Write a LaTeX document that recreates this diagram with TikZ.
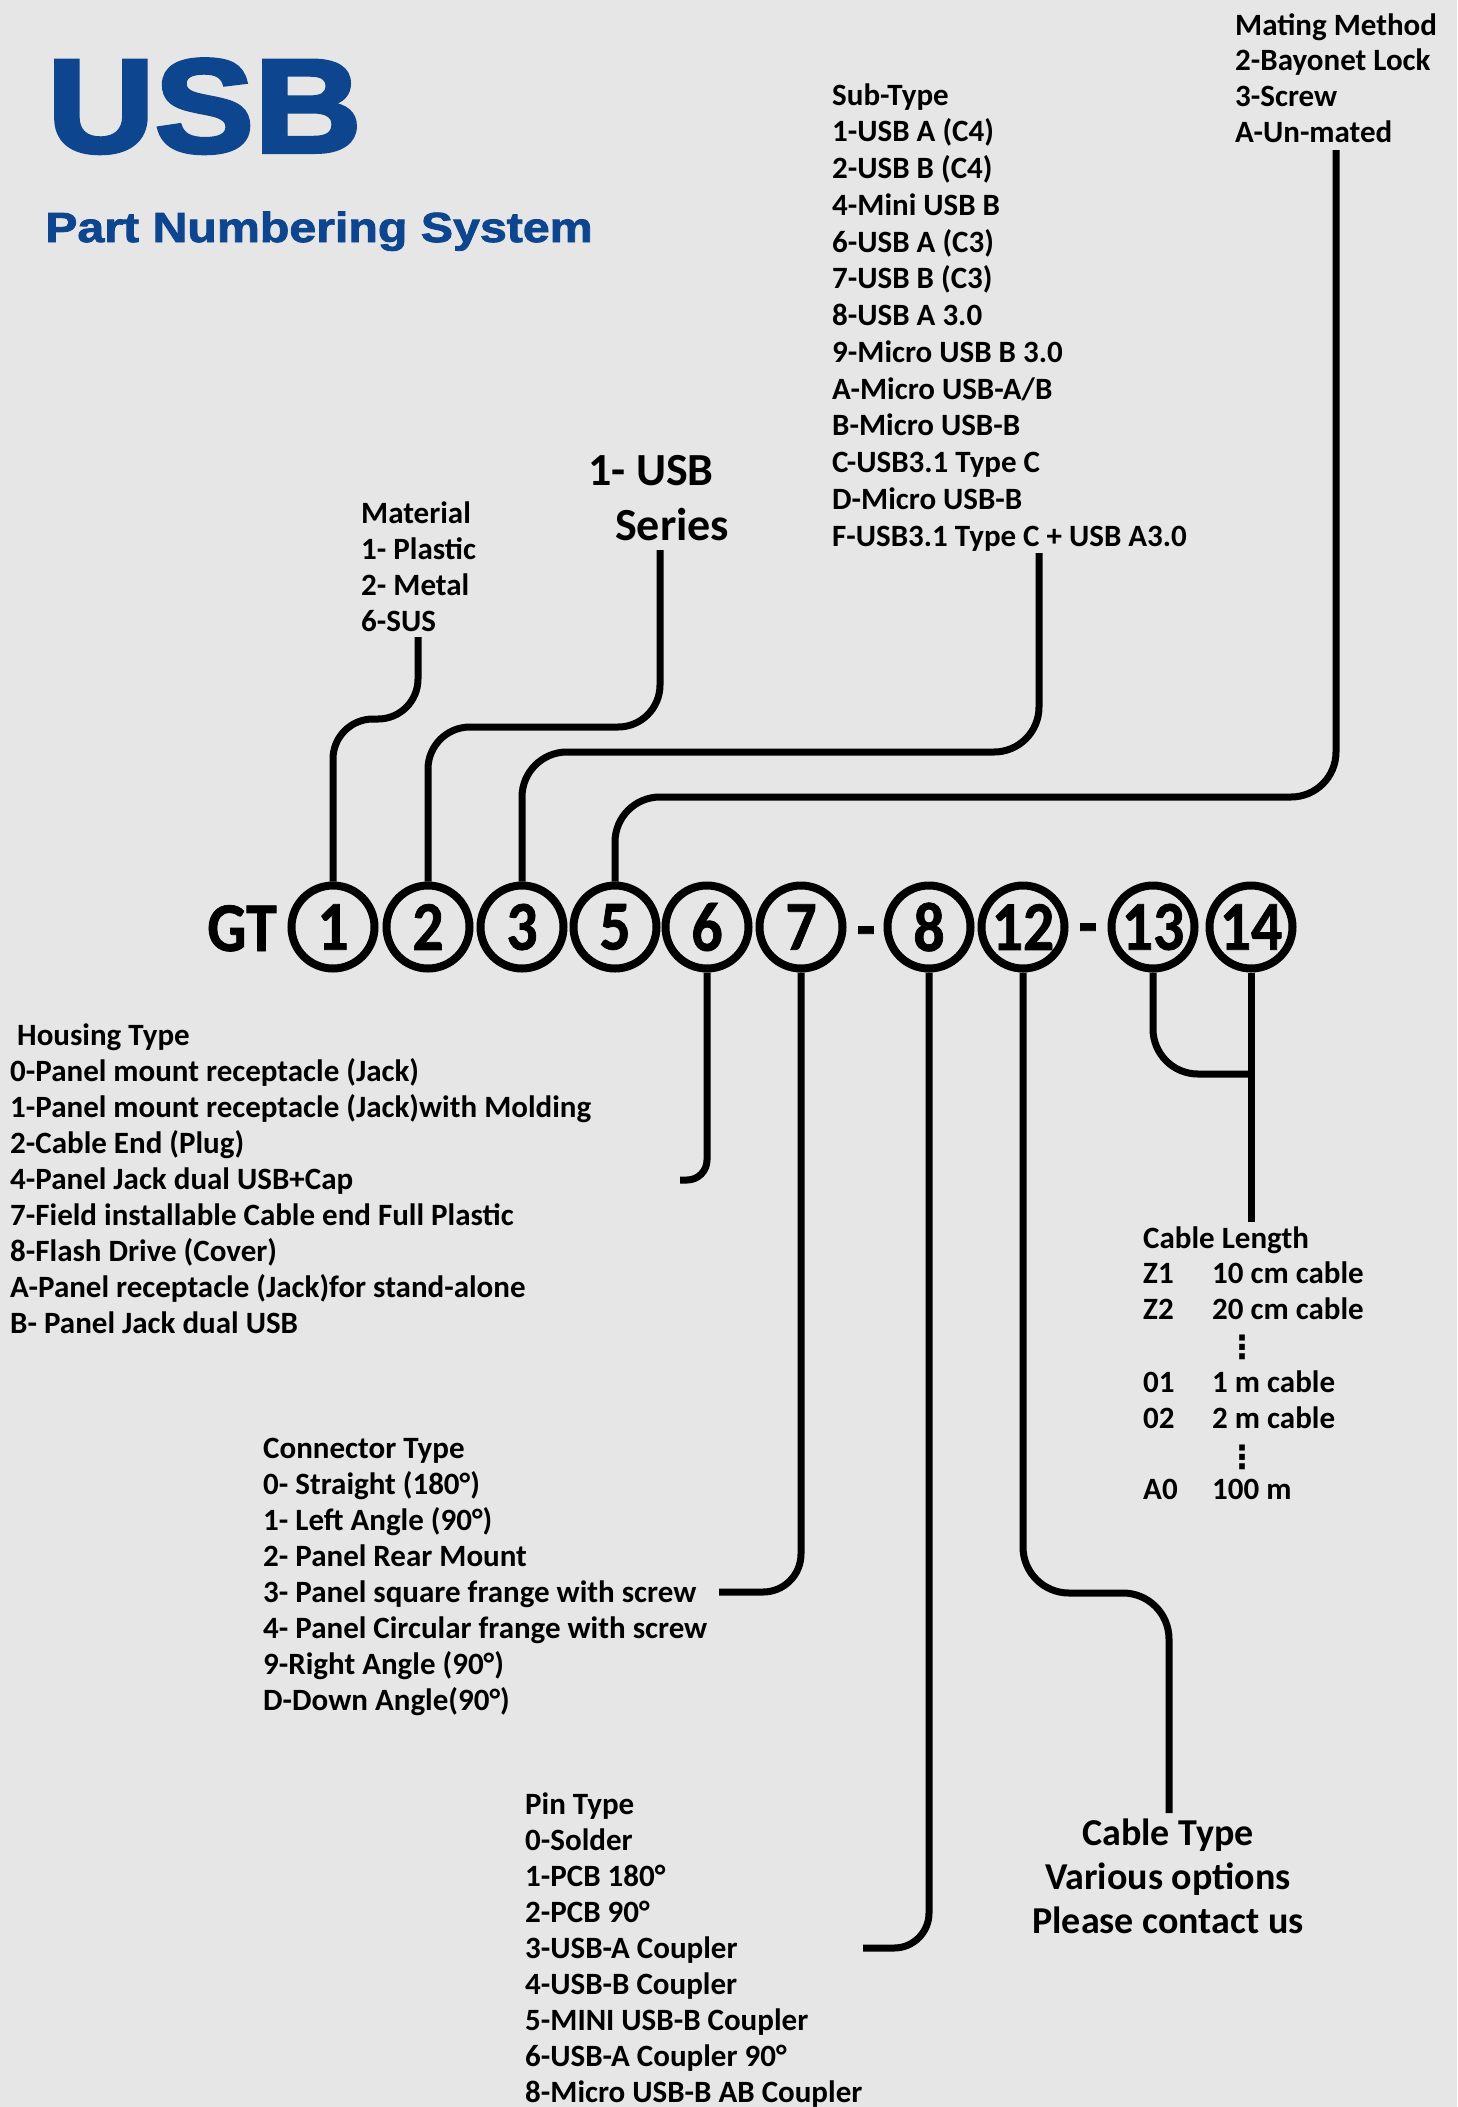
\documentclass[tikz,border=0pt]{standalone}
\usepackage{fontspec}
\setmainfont{Carlito}
\newfontfamily\titlefont{Liberation Sans}[FakeStretch=1.12,BoldFeatures={FakeBold=3}]
\newfontfamily\subtitlefont{Liberation Sans}[FakeStretch=1.15,BoldFeatures={FakeBold=2}]
\newfontfamily\digitfont{Carlito}[FakeStretch=0.88,BoldFeatures={FakeBold=1}]
\newfontfamily\symfont{DejaVu Sans}
\definecolor{usbblue}{RGB}{13,69,143}
\definecolor{paper}{RGB}{230,230,230}

\tikzset{
  item/.style={anchor=base west, inner sep=0pt, font=\fontsize{31}{36}\selectfont\bfseries},
  bigitem/.style={anchor=base, inner sep=0pt, font=\fontsize{38}{44}\selectfont\bfseries},
  digit/.style={circle, draw, line width=8pt, minimum size=83pt, inner sep=0pt,
    font=\digitfont\fontsize{70}{70}\selectfont\bfseries},
  code/.style={anchor=base, inner sep=0pt, font=\digitfont\fontsize{70}{70}\selectfont\bfseries},
  lead/.style={line width=7pt},
}

\begin{document}
\begin{tikzpicture}[x=1pt, y=-1pt]
  \useasboundingbox (0,0) rectangle (1457,2107);
  \fill[paper] (0,0) rectangle (1457,2107);

  % title
  \node[anchor=base west, inner sep=0pt, text=usbblue,
    font=\titlefont\bfseries\fontsize{133}{133}\selectfont] (title) at (47,152) {USB};
  \node[anchor=base west, inner sep=0pt, text=usbblue,
    font=\subtitlefont\bfseries\fontsize{42}{42}\selectfont] (subtitle) at (45,242) {Part Numbering System};

  % code row
  \node[code] (gt) at (242,951) {GT};
  \foreach \d/\x in {1/333, 2/428, 3/522, 5/615, 6/707, 7/801, 8/929, 12/1023, 13/1153, 14/1251}
    \node[digit] (c\d) at (\x,927) {\d};
  \node[code] (dashA) at (866,950) {-};
  \node[code] (dashB) at (1088,947) {-};

  % mating method
  \foreach \t [count=\i from 0] in {Mating Method, 2-Bayonet Lock, 3-Screw, A-Un-mated}
    \node[item] (mate\i) at (1235,{35+35.8*\i}) {\t};

  % sub-type
  \foreach \t [count=\i from 0] in {Sub-Type, 1-USB A (C4), 2-USB B (C4), 4-Mini USB B,
      6-USB A (C3), 7-USB B (C3), 8-USB A 3.0, 9-Micro USB B 3.0, A-Micro USB-A/B,
      B-Micro USB-B, C-USB3.1 Type C, D-Micro USB-B, F-USB3.1 Type C + USB A3.0}
    \node[item] (sub\i) at (832,{105+36.75*\i}) {\t};

  % material
  \foreach \t [count=\i from 0] in {Material, 1- Plastic, 2- Metal, 6-SUS}
    \node[item] (mat\i) at (361,{523+36*\i}) {\t};

  % series
  \node[item, font=\fontsize{46}{55}\selectfont\bfseries] (series0) at (588,485) {1- USB};
  \node[item, font=\fontsize{46}{55}\selectfont\bfseries] (series1) at (615,540) {Series};

  % housing type
  \node[item] (house0) at (17,1045) {Housing Type};
  \foreach \t [count=\i] in {0-Panel mount receptacle (Jack),
      1-Panel mount receptacle (Jack)with Molding, 2-Cable End (Plug),
      4-Panel Jack dual USB+Cap, 7-Field installable Cable end Full Plastic,
      8-Flash Drive (Cover), A-Panel receptacle (Jack)for stand-alone,
      B- Panel Jack dual USB}
    \node[item] (house\i) at (10,{1045+36*\i}) {\t};

  % connector type
  \foreach \t [count=\i from 0] in {Connector Type, 0- Straight (180°), 1- Left Angle (90°),
      2- Panel Rear Mount, 3- Panel square frange with screw,
      4- Panel Circular frange with screw, 9-Right Angle (90°), D-Down Angle(90°)}
    \node[item] (conn\i) at (263,{1458+36*\i}) {\t};

  % pin type
  \foreach \t [count=\i from 0] in {Pin Type, 0-Solder, 1-PCB 180°, 2-PCB 90°,
      3-USB-A Coupler, 4-USB-B Coupler, 5-MINI USB-B Coupler, 6-USB-A Coupler 90°,
      8-Micro USB-B AB Coupler}
    \node[item] (pin\i) at (525,{1814+36*\i}) {\t};

  % cable type
  \foreach \t [count=\i from 0] in {Cable Type, Various options, Please contact us}
    \node[bigitem] (ctype\i) at (1168,{1845+44*\i}) {\t};

  % cable length
  \node[item] (len0) at (1143,1248) {Cable Length};
  \foreach \k/\v/\y [count=\i] in {Z1/10 cm cable/1283, Z2/20 cm cable/1319,
      01/1 m cable/1392, 02/2 m cable/1428, A0/100 m/1499} {
    \node[item] (key\i) at (1143,\y) {\k};
    \node[item] (val\i) at (1212,\y) {\v};
  }
  \node[inner sep=0pt, font=\symfont\fontsize{32}{32}\selectfont\bfseries] (dotsA) at (1242,1347) {⋮};
  \node[inner sep=0pt, font=\symfont\fontsize{32}{32}\selectfont\bfseries] (dotsB) at (1242,1457) {⋮};

  % free ends of the leads
  \coordinate (mateEnd) at (1336,150);
  \coordinate (subEnd) at (1039,553);
  \coordinate (seriesEnd) at (660,550);
  \coordinate (matEnd) at (418,637);
  \coordinate (houseEnd) at (680,1180);
  \coordinate (connEnd) at (719,1592);
  \coordinate (pinEnd) at (863,1948);
  \coordinate (ctypeEnd) at (1169,1813);
  \coordinate (lenJoin) at (1251,1074);
  \coordinate (lenEnd) at (1251,1222);

  % leads above
  \draw[lead, rounded corners=40pt] (c1.north) -- ++(0,-162.5) -| (matEnd);
  \draw[lead, rounded corners=42pt] (seriesEnd) -- ++(0,177) -| (c2.north);
  \draw[lead, rounded corners=45pt] (subEnd) -- ++(0,199) -| (c3.north);
  \draw[lead, rounded corners=45pt] (mateEnd) -- ++(0,647) -| (c5.north);

  % leads below
  \draw[lead, rounded corners=20pt] (c6.south) |- (houseEnd);
  \draw[lead, rounded corners=38pt] (c7.south) |- (connEnd);
  \draw[lead, rounded corners=35pt] (c8.south) |- (pinEnd);
  \draw[lead, rounded corners=46pt] (c12.south) -- ++(0,620.5) -| (ctypeEnd);
  \draw[lead, rounded corners=45pt] (c13.south) |- (lenJoin);
  \draw[lead] (c14.south) -- (lenEnd);
\end{tikzpicture}
\end{document}
